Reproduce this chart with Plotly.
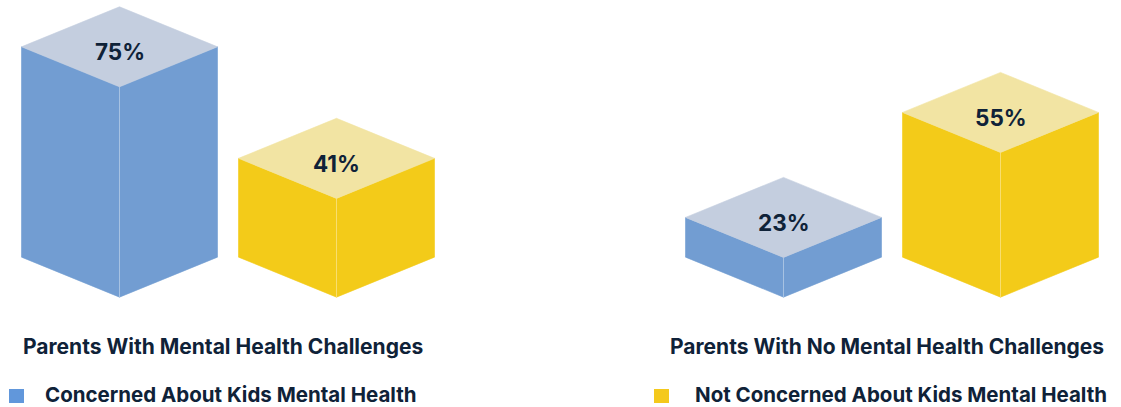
import plotly.graph_objects as go

# ---- data ----
groups = ["Parents With Mental Health Challenges", "Parents With No Mental Health Challenges"]
series = ["Concerned About Kids Mental Health", "Not Concerned About Kids Mental Health"]
concerned = [75, 23]
not_concerned = [41, 55]
values = [concerned, not_concerned]

# ---- style / layout constants ----
W, H = 1121, 407
side_colors = ["#729DD2", "#F3CB19"]
top_colors = ["#C4CEDF", "#F2E4A3"]
legend_colors = ["#6197DB", "#F4C91C"]
text_color = "#0F2238"
FONT = "Inter"

group_centers = [228, 892]   # x-axis units
bar_offset = 108.5
half_w = 98
base = 10.9                  # y-axis value where the box sides start
depth = 12.2                 # half height of the top diamond (y units)
y_range = [-34.78, 89.27]
title_dx = -5
legend_sq_x = [9, 654]
legend_txt_x = [43, 693]

fig = go.Figure()

for gi, gc in enumerate(group_centers):
    for si in range(len(series)):
        v = values[si][gi]
        cx = gc + (si - 0.5) * 2 * bar_offset
        xl, xr = cx - half_w, cx + half_w
        sc, tc = side_colors[si], top_colors[si]
        # left face
        fig.add_trace(go.Scatter(
            x=[xl, xl, cx, cx, xl], y=[base, v, v - depth, base - depth, base],
            fill="toself", fillcolor=sc, mode="lines", line=dict(color=sc, width=0.6),
            hoverinfo="skip", showlegend=False))
        # right face
        fig.add_trace(go.Scatter(
            x=[cx, cx, xr, xr, cx], y=[base - depth, v - depth, v, base, base - depth],
            fill="toself", fillcolor=sc, mode="lines", line=dict(color=sc, width=0.6),
            hoverinfo="skip", showlegend=False))
        # subtle front edge
        fig.add_trace(go.Scatter(
            x=[cx, cx], y=[base - depth, v - depth], mode="lines",
            line=dict(color="rgba(255,255,255,0.35)", width=1),
            hoverinfo="skip", showlegend=False))
        # top face
        fig.add_trace(go.Scatter(
            x=[xl, cx, xr, cx, xl], y=[v, v + depth, v, v - depth, v],
            fill="toself", fillcolor=tc, mode="lines", line=dict(color=tc, width=0.6),
            hoverinfo="skip", showlegend=False))
        fig.add_annotation(x=cx, y=v, xref="x", yref="y", text=f"{v}%",
                           showarrow=False, yshift=-5,
                           font=dict(family=FONT, size=22.5, color=text_color, weight=700))
    # group title
    fig.add_annotation(x=gc + title_dx, y=1 - 346 / H, xref="x", yref="paper", text=groups[gi],
                       showarrow=False, xanchor="center", yanchor="middle",
                       font=dict(family=FONT, size=21, color=text_color, weight=700))

# manual legend
for si, name in enumerate(series):
    x0 = legend_sq_x[si]
    fig.add_shape(type="rect", xref="x", yref="paper",
                  x0=x0, x1=x0 + 15, y0=1 - 403 / H, y1=1 - 389 / H,
                  fillcolor=legend_colors[si], line=dict(width=0))
    fig.add_annotation(x=legend_txt_x[si], y=1 - 394 / H, xref="x", yref="paper", text=name,
                       showarrow=False, xanchor="left", yanchor="middle",
                       font=dict(family=FONT, size=20.5, color=text_color, weight=700))

fig.update_layout(
    width=W, height=H, autosize=False,
    margin=dict(l=0, r=0, t=0, b=0),
    paper_bgcolor="white", plot_bgcolor="white",
    xaxis=dict(range=[0, W], visible=False, fixedrange=True),
    yaxis=dict(range=y_range, visible=False, fixedrange=True),
    showlegend=False,
)

fig.write_html("out.html", config={"displayModeBar": False},
               post_script="document.body.style.margin='0px';document.body.style.overflow='hidden';")
